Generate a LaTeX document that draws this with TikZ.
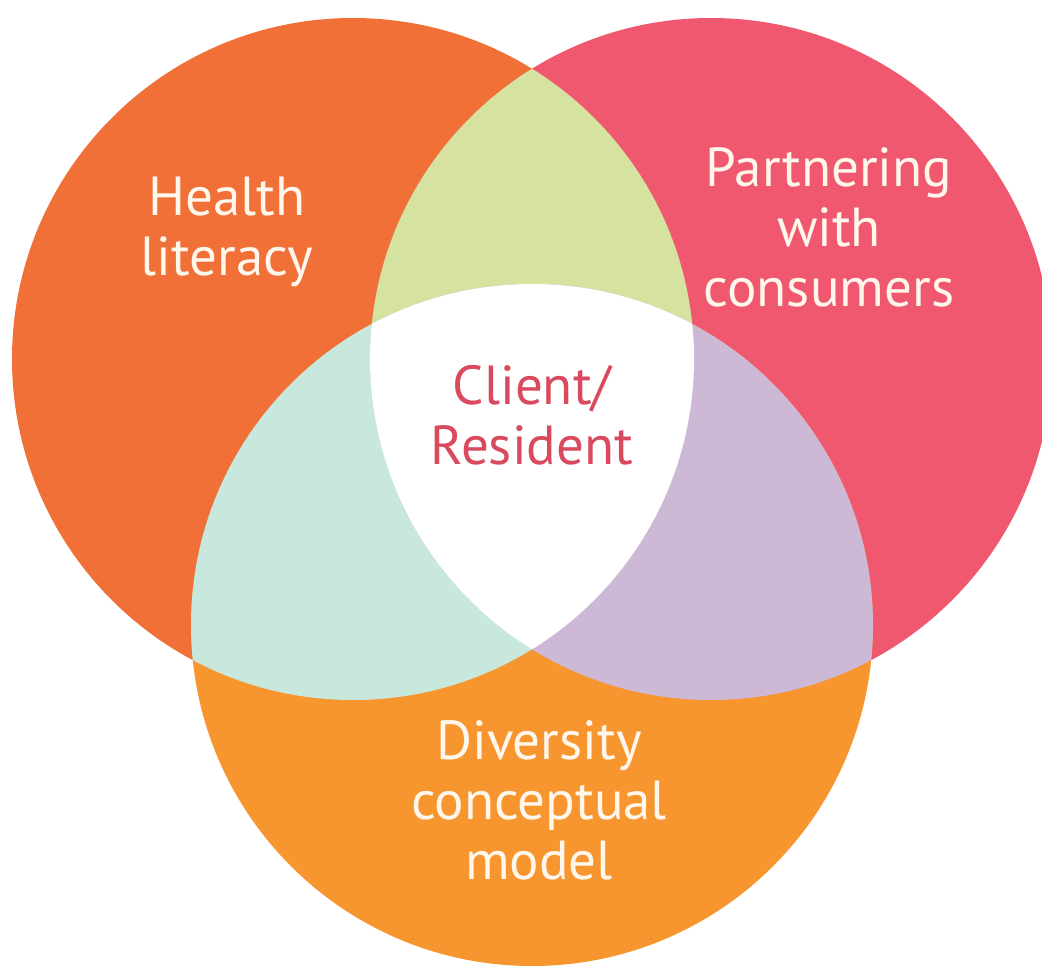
\documentclass[tikz,border=0pt]{standalone}
\usepackage{fontspec}
\setsansfont{PT Sans}
\definecolor{healthcol}{HTML}{F07038}
\definecolor{partnercol}{HTML}{EF586E}
\definecolor{diversitycol}{HTML}{F7962E}
\definecolor{hpcol}{HTML}{D5E2A0}
\definecolor{hdcol}{HTML}{C8E8DE}
\definecolor{pdcol}{HTML}{CDB8D6}
\definecolor{clientcol}{HTML}{D94A5E}
\definecolor{cream}{HTML}{FFF6EC}

\begin{document}
\begin{tikzpicture}[x=1pt,y=-1pt]
	\tikzset{circletext/.style={text=cream, font=\sffamily\fontsize{55}{60}\selectfont, align=center, inner sep=0pt}};
	\def\rad{341pt}
	\useasboundingbox (0,0) rectangle (1042,966);
	\coordinate (health) at (353,359);
	\coordinate (partner) at (711,359);
	\coordinate (diversity) at (532,625);
	% the three circles
	\fill[healthcol] (health) circle (\rad);
	\fill[partnercol] (partner) circle (\rad);
	\fill[diversitycol] (diversity) circle (\rad);
	% pairwise overlaps
	\begin{scope}
		\clip (health) circle (\rad);
		\fill[hpcol] (partner) circle (\rad);
		\fill[hdcol] (diversity) circle (\rad);
	\end{scope}
	\begin{scope}
		\clip (partner) circle (\rad);
		\fill[pdcol] (diversity) circle (\rad);
	\end{scope}
	% centre
	\begin{scope}
		\clip (health) circle (\rad);
		\clip (partner) circle (\rad);
		\fill[white] (diversity) circle (\rad);
	\end{scope}
	\node[circletext] (healthlabel) at (227,232) {Health\\literacy};
	\node[circletext] (partnerlabel) at (829,227) {Partnering\\with\\consumers};
	\node[circletext] (diversitylabel) at (539,800) {Diversity\\conceptual\\model};
	\node[circletext, text=clientcol] (clientlabel) at (532,415) {Client/\\Resident};
\end{tikzpicture}
\end{document}
